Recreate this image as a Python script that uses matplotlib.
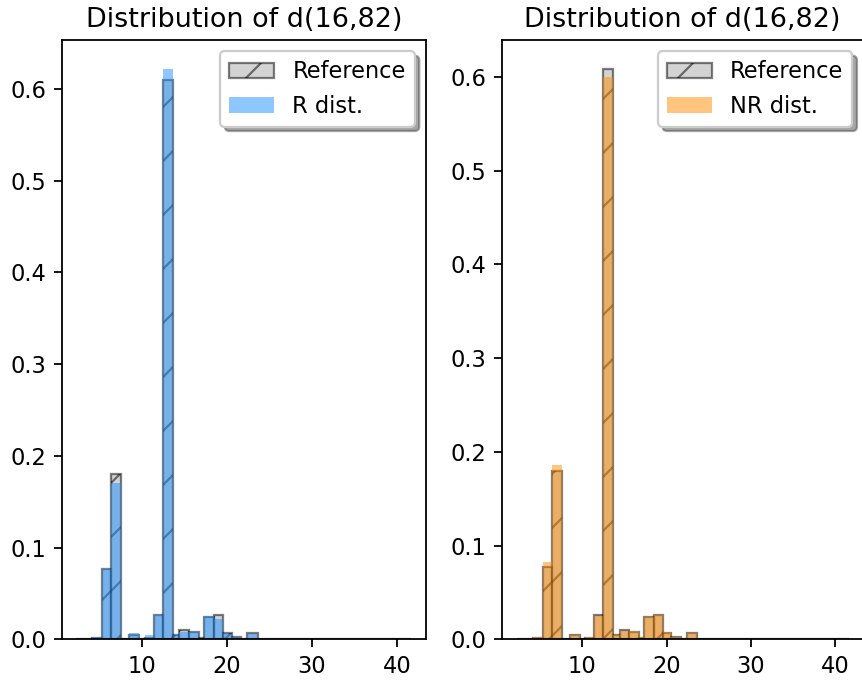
import matplotlib
matplotlib.use("Agg")
import numpy as np
import matplotlib.pyplot as plt

# bin edges (shared by all three histograms)
edges = [2.3, 3.2, 4.2, 5.3, 6.44, 7.6, 8.5, 9.7, 10.35, 11.4, 12.45, 13.68,
         14.43, 15.52, 16.72, 17.32, 18.47, 19.58, 20.58, 21.7, 22.38, 23.62,
         24.76, 25.9, 27.04, 28.18, 29.32, 30.46, 31.6, 32.74, 33.88, 35.02,
         36.16, 37.3, 38.44, 39.58, 40.72, 41.6]

# bar heights (density) per bin
ref_h = [0.0003, 0.0005, 0.0015, 0.077, 0.180, 0, 0.005, 0, 0.001, 0.026,
         0.609, 0.005, 0.0098, 0.008, 0.001, 0.024, 0.026, 0.007, 0.002, 0,
         0.0065, 0, 0, 0, 0, 0, 0, 0, 0, 0, 0, 0, 0, 0, 0, 0, 0]
r_h = [0, 0, 0.002, 0.077, 0.170, 0, 0.0065, 0, 0.005, 0.0265,
       0.622, 0.005, 0.008, 0.0075, 0, 0.0255, 0.022, 0.006, 0.002, 0,
       0.006, 0, 0, 0, 0, 0, 0, 0, 0, 0, 0, 0, 0, 0, 0, 0, 0]
nr_h = [0, 0.001, 0.002, 0.0825, 0.186, 0, 0.005, 0, 0.002, 0.025,
        0.600, 0.005, 0.009, 0.009, 0.002, 0.024, 0.026, 0.0075, 0.002, 0,
        0.0065, 0, 0, 0, 0, 0, 0, 0, 0, 0, 0, 0, 0, 0, 0, 0, 0]

title = "Distribution of d(16,82)"
panels = [("R dist.", r_h, "dodgerblue"), ("NR dist.", nr_h, "darkorange")]

left = edges[:-1]
widths = np.diff(edges)

DPI = 162
fig = plt.figure(figsize=(862/DPI, 684/DPI), dpi=DPI)
ax_pos = [[0.0716, 0.0653, 0.4226, 0.8762], [0.582, 0.0653, 0.420, 0.8762]]
xlims = [(0.61, 43.37), (0.43, 43.4)]

for pos, xl, (lab, h, col) in zip(ax_pos, xlims, panels):
    ax = fig.add_axes(pos)
    ax.bar(left, ref_h, width=widths, align="edge", color="darkgray",
           edgecolor="black", alpha=0.5, hatch="/", label="Reference")
    ax.bar(left, h, width=widths, align="edge", color=col, alpha=0.5,
           label=lab)
    ax.set_xlim(*xl)
    ax.set_title(title)
    ax.legend(loc="upper right", shadow=True)

fig.savefig("out.png", dpi=DPI)
